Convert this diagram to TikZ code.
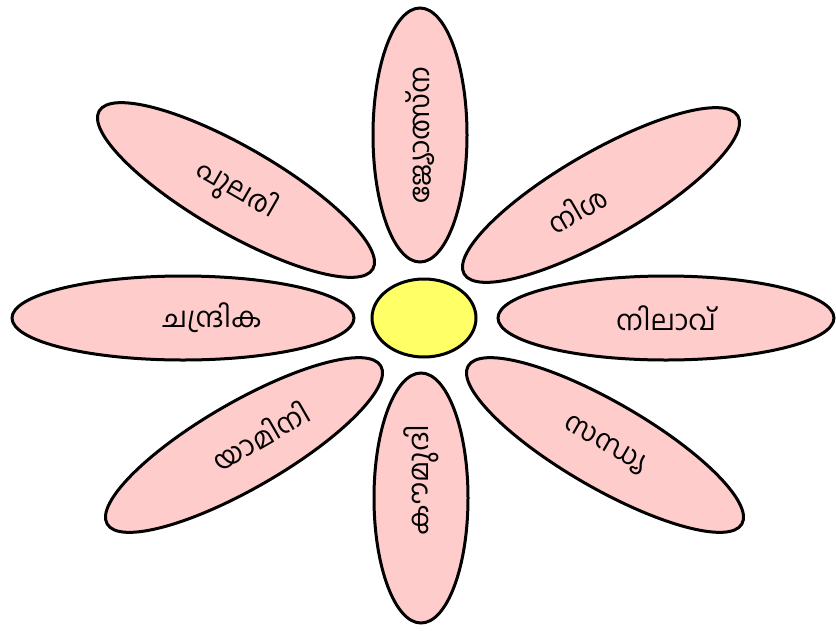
\documentclass[tikz,border=0pt]{standalone}
\usepackage{fontspec}
\newfontfamily\malfont[Script=Malayalam]{Hind Kochi}
\usepackage{xcolor}
\usepackage{tikz}
\usetikzlibrary{shapes.geometric}
\definecolor{petalpink}{RGB}{255,204,204}
\definecolor{coreyellow}{RGB}{255,255,102}

\begin{document}
\begin{tikzpicture}[x=1pt, y=-1pt,
    petal/.style={draw, ellipse, line width=3pt, fill=petalpink, inner sep=0pt,
                  font=\malfont\fontsize{28}{32}\selectfont},
    core/.style={draw, ellipse, line width=3pt, fill=coreyellow, inner sep=0pt}]
    \useasboundingbox (0, 0) rectangle (836, 630);

    \node [core, minimum width=104, minimum height=78] (centre) at (424, 318) {};

    % the leading or trailing space pulls a text towards the centre
    \node [petal, minimum width=254, minimum height=94, rotate=90] (jyotsna) at (420, 135) {ജ്യോത്സ്ന};
    \node [petal, minimum width=250, minimum height=94, rotate=90] (kaumudi) at (421, 498) {\hspace*{36pt}കൗമുദി};
    \node [petal, minimum width=342, minimum height=84] (chandrika) at (183, 318) {\hspace*{58pt}ചന്ദ്രിക};
    \node [petal, minimum width=336, minimum height=84] (nilavu) at (666, 318) {നിലാവ്};
    \node [petal, minimum width=316, minimum height=86, rotate=-30] (pulari) at (236, 190) {പുലരി};
    \node [petal, minimum width=316, minimum height=86, rotate=30] (nisha) at (601, 195) {നിശ\hspace*{56pt}};
    \node [petal, minimum width=316, minimum height=86, rotate=-30] (sandhya) at (605, 445) {സന്ധ്യ};
    \node [petal, minimum width=316, minimum height=86, rotate=30] (yamini) at (244, 445) {\hspace*{38pt}യാമിനി};
\end{tikzpicture}
\end{document}
